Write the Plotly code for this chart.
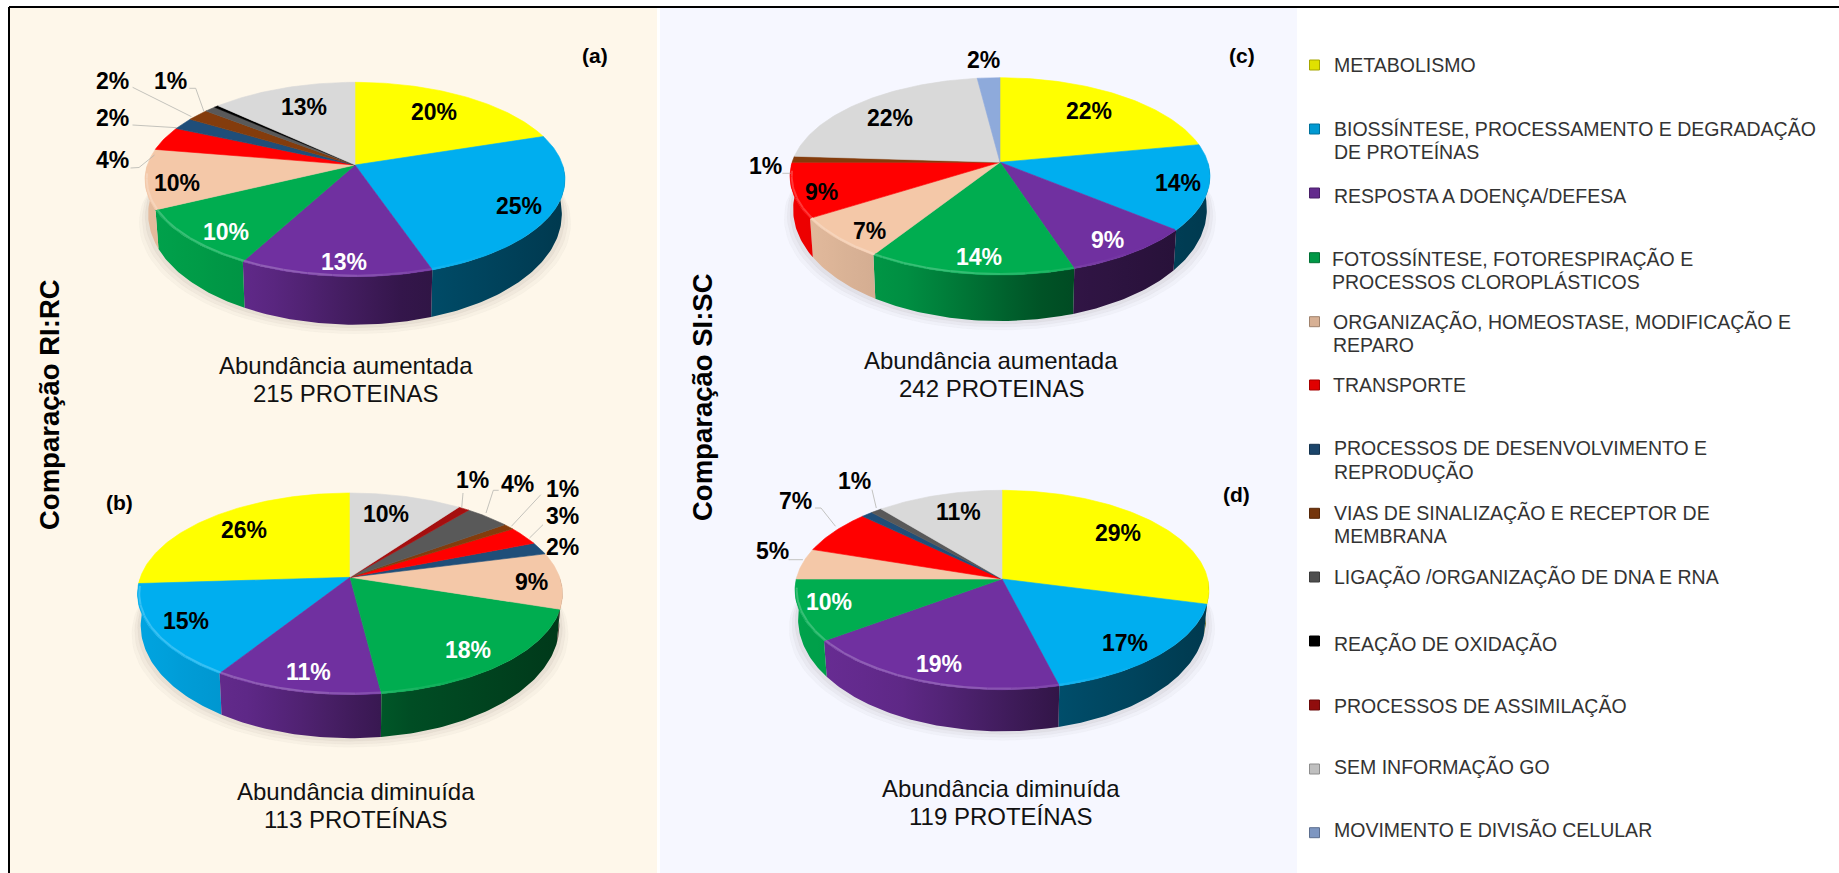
import math
import plotly.graph_objects as go

# Functional categories, in legend order
CATEGORIES = [
    "METABOLISMO",
    "BIOSSÍNTESE, PROCESSAMENTO E DEGRADAÇÃO<br>DE PROTEÍNAS",
    "RESPOSTA A DOENÇA/DEFESA",
    "FOTOSSÍNTESE, FOTORESPIRAÇÃO E<br>PROCESSOS CLOROPLÁSTICOS",
    "ORGANIZAÇÃO, HOMEOSTASE, MODIFICAÇÃO E<br>REPARO",
    "TRANSPORTE",
    "PROCESSOS DE DESENVOLVIMENTO E<br>REPRODUÇÃO",
    "VIAS DE SINALIZAÇÃO E RECEPTOR DE<br>MEMBRANA",
    "LIGAÇÃO /ORGANIZAÇÃO DE DNA E RNA",
    "REAÇÃO DE OXIDAÇÃO",
    "PROCESSOS DE ASSIMILAÇÃO",
    "SEM INFORMAÇÃO GO",
    "MOVIMENTO E DIVISÃO CELULAR",
]
COLORS = ["#ffff00", "#00aeef", "#7030a0", "#00ad50", "#f4c8a8", "#ff0000", "#1f4e79",
          "#843c0c", "#595959", "#000000", "#a50f0f", "#d9d9d9", "#8eaadb"]

# Percentages per category for each comparison
VALUES_A = [20, 25, 13, 10, 10, 4, 2, 2, 1, 0.4, 0, 13, 0]
VALUES_B = [26, 15, 11, 18, 9, 3, 2, 1, 4, 0, 1, 10, 0]
VALUES_C = [22, 14, 9, 14, 7, 9, 0, 1, 0, 0, 0, 22, 2]
VALUES_D = [29, 17, 19, 10, 5, 7, 1, 0, 1, 0, 0, 11, 0]

# Slice order around each disc (panel b runs counter-clockwise and puts 6 before 5)
ORDER_DEFAULT = list(range(13))
ORDER_B = [0, 1, 2, 3, 4, 6, 5, 7, 8, 9, 10, 11, 12]

# Disc geometry in figure pixels: apex x/y, rim top y, rim front y, half width, front depth
DISCS = {
    "a": dict(values=VALUES_A, order=ORDER_DEFAULT, sign=1, ax=355, ay=165, top=82.3, front=276.7, hw=210, depth=48),
    "b": dict(values=VALUES_B, order=ORDER_B, sign=-1, ax=350, ay=577.3, top=493, front=694.7, hw=212.5, depth=43.5),
    "c": dict(values=VALUES_C, order=ORDER_DEFAULT, sign=1, ax=1000, ay=162.3, top=77.7, front=275, hw=210, depth=46),
    "d": dict(values=VALUES_D, order=ORDER_DEFAULT, sign=1, ax=1002, ay=579, top=490.3, front=689.7, hw=207, depth=41.6),
}

# Percent labels: text, x, y, colour
PCT_LABELS = [
    ("20%", 433.5, 111.7, "#000"), ("25%", 519, 206, "#000"), ("13%", 344, 261.7, "#fff"),
    ("10%", 226.4, 231.7, "#fff"), ("10%", 176.8, 182.7, "#000"), ("4%", 112.4, 160, "#000"),
    ("2%", 112.4, 118.3, "#000"), ("2%", 112.4, 80.7, "#000"), ("1%", 170.5, 80.7, "#000"),
    ("13%", 304, 106.7, "#000"),
    ("26%", 244, 529.7, "#000"), ("10%", 386.4, 514, "#000"), ("1%", 472.2, 479.7, "#000"),
    ("4%", 517.7, 483.7, "#000"), ("1%", 562.7, 488.7, "#000"), ("3%", 562.7, 516.3, "#000"),
    ("2%", 562.7, 547.3, "#000"), ("9%", 531.6, 582.3, "#000"), ("18%", 468.4, 650.3, "#fff"),
    ("11%", 308, 672, "#fff"), ("15%", 186.4, 621.3, "#000"),
    ("22%", 1088.6, 110.7, "#000"), ("14%", 1177.6, 183.3, "#000"), ("9%", 1107, 240, "#fff"),
    ("14%", 979, 256.7, "#fff"), ("7%", 869, 230.7, "#000"), ("9%", 821.6, 191.7, "#000"),
    ("1%", 765.3, 165.7, "#000"), ("22%", 889.8, 117.7, "#000"), ("2%", 983.7, 60, "#000"),
    ("29%", 1118, 533, "#000"), ("17%", 1125.3, 643, "#000"), ("19%", 938.8, 663.7, "#fff"),
    ("10%", 828.6, 602, "#fff"), ("5%", 772.2, 551.3, "#000"), ("7%", 795.5, 500.7, "#000"),
    ("1%", 854.7, 481.3, "#000"), ("11%", 958, 512.3, "#000"),
]
PANEL_TAGS = [("(a)", 595, 55), ("(b)", 119, 502), ("(c)", 1242, 55), ("(d)", 1236, 494)]
CAPTIONS = [
    ("Abundância aumentada", 345.5, 365), ("215 PROTEINAS", 345.5, 393),
    ("Abundância diminuída", 355.6, 791.3), ("113 PROTEÍNAS", 355.6, 819.7),
    ("Abundância aumentada", 991.4, 360), ("242 PROTEINAS", 991.4, 388),
    ("Abundância diminuída", 1000.8, 788.7), ("119 PROTEÍNAS", 1000.8, 816.3),
]
SIDE_TITLES = [("Comparação RI:RC", 49, 405), ("Comparação SI:SC", 702, 397)]

# Leader lines from outside labels to their slices
LEADERS = [
    [(130.5, 168), (139, 167.5), (154.5, 155)],
    [(132.5, 125), (176.8, 127.7)],
    [(132.6, 87.3), (191.5, 116.7)],
    [(189.4, 88.3), (195.7, 88.3), (204, 111.7)],
    [(463, 493), (461.7, 508)],
    [(498.7, 490.3), (493.3, 490.3), (486, 513)],
    [(540.8, 494.7), (511.4, 526.3)],
    [(543, 524.7), (529.5, 538)],
    [(782.4, 173.3), (790.6, 173.3)],
    [(788.6, 559.7), (802.9, 559.7)],
    [(815, 508), (821, 508), (835.5, 526.3)],
    [(872, 489.7), (876.3, 508)],
]

# Legend rows: marker y, text x, first-line y
LEGEND_MARKER_X = 1314.5
LEGEND_LINE_STEP = 23.6
LEGEND_ROWS = [
    (65, 1332, 65), (129, 1332, 128.3), (193, 1332, 196), (257.7, 1329.5, 258.3),
    (321.7, 1330.5, 321.7), (385, 1330.5, 385), (449.3, 1332, 447.7), (513.3, 1332, 512.3),
    (577, 1332, 576.7), (641, 1332, 643.3), (705, 1332, 705), (769, 1332, 766.7),
    (832.7, 1332, 829),
]

FONT = "Liberation Sans"


def hex_rgb(c):
    return tuple(int(c[i:i + 2], 16) for i in (1, 3, 5))


def shade(c, f):
    r, g, b = hex_rgb(c)
    return f"rgb({r * f:.0f},{g * f:.0f},{b * f:.0f})"


def tint(c, f):
    r, g, b = hex_rgb(c)
    return f"rgb({r + (255 - r) * f:.0f},{g + (255 - g) * f:.0f},{b + (255 - b) * f:.0f})"


def light(u):
    # Side wall brightness: lit from the left, falling off to the right
    pts = [(-1.05, .95), (-.5, .85), (-.3, .75), (0, .58), (.25, .45), (1.05, .32)]
    for (u0, f0), (u1, f1) in zip(pts, pts[1:]):
        if u <= u1:
            return f0 + (f1 - f0) * (u - u0) / (u1 - u0)
    return pts[-1][1]


class Disc:
    """Perspective projection of a flat disc seen from above."""

    def __init__(self, d):
        self.ax, self.ay, self.hw = d["ax"], d["ay"], d["hw"]
        up, down = d["ay"] - d["top"], d["front"] - d["ay"]
        self.k = (down - up) / (down + up)
        self.s = up * (1 + self.k)
        self.r = d["hw"] * math.sqrt(1 - self.k ** 2)
        self.depth = d["depth"]
        self.side = d["depth"] * 0.67

    def rim(self, deg, scale=1.0):
        t = math.radians(deg)
        u, v = math.sin(t) * scale, -math.cos(t) * scale
        w = 1 - self.k * v
        return self.ax + self.r * u / w, self.ay + self.s * v / w

    def low(self, deg):
        x, y = self.rim(deg)
        v = max(-math.cos(math.radians(deg)), 0)
        return self.ax + (x - self.ax) * 0.985, y + self.side + (self.depth - self.side) * v


def arc(a0, a1, step=1.0):
    n = max(2, int(abs(a1 - a0) / step) + 1)
    return [a0 + (a1 - a0) * i / (n - 1) for i in range(n)]


def front_range(a0, a1, start, end):
    # Part of a slice's angular span that lies on the front of the disc
    lo, hi = min(a0, a1), max(a0, a1)
    if lo < 0:
        lo, hi = lo + 360, hi + 360
    return max(lo, start), min(hi, end)


def polygon(fig, xs, ys, color=None, gradient=None):
    kw = dict(fillgradient=gradient) if gradient else dict(fillcolor=color)
    fig.add_trace(go.Scatter(x=xs, y=ys, mode="lines", fill="toself",
                             line=dict(width=0.6, color=color or "rgba(0,0,0,0)"),
                             hoverinfo="skip", showlegend=False, **kw))


fig = go.Figure()

for d in DISCS.values():
    disc = Disc(d)
    vals = d["values"]
    total = sum(vals)
    # Soft drop shadow under the wall
    ring = arc(0, 360, 3)
    for grow, alpha in ((9, .03), (6, .04), (3, .05)):
        xs = [disc.ax + (disc.low(a)[0] - disc.ax) * (1 + grow / disc.hw) for a in ring]
        ys = [disc.low(a)[1] + grow for a in ring]
        polygon(fig, xs, ys, f"rgba(70,60,50,{alpha})")

    spans, acc = [], 0
    for idx in d["order"]:
        if vals[idx] <= 0:
            continue
        a0 = d["sign"] * acc / total * 360
        acc += vals[idx]
        spans.append((idx, a0, d["sign"] * acc / total * 360))

    # Outer wall of the disc, front half only
    for idx, a0, a1 in spans:
        lo, hi = front_range(a0, a1, 90, 270)
        if hi <= lo:
            continue
        angs = arc(lo, hi)
        top = [disc.rim(a) for a in angs]
        bot = [disc.low(a) for a in reversed(angs)]
        xs = [p[0] for p in top + bot]
        ys = [p[1] for p in top + bot]
        x0, x1 = min(xs), max(xs)
        stops = []
        for i in range(7):
            f = i / 6
            stops.append([f, shade(COLORS[idx], light((x0 + (x1 - x0) * f - disc.ax) / disc.hw))])
        polygon(fig, xs + xs[:1], ys + ys[:1], gradient=dict(type="horizontal", colorscale=stops))

    # Top face
    for idx, a0, a1 in spans:
        pts = [disc.rim(a) for a in arc(a0, a1)]
        xs = [disc.ax] + [p[0] for p in pts] + [disc.ax]
        ys = [disc.ay] + [p[1] for p in pts] + [disc.ay]
        polygon(fig, xs, ys, COLORS[idx])

    # Bevel highlight along the front edge, brightest on the lit left side
    for idx, a0, a1 in spans:
        lo, hi = front_range(a0, a1, 110, 265)
        a = lo
        while a < hi:
            b = min(a + 6, hi)
            pts = [disc.rim(t, 0.992) for t in arc(a, b)]
            u = math.sin(math.radians((a + b) / 2))
            strength = max(0.0, min(.22, .22 - .22 * (u + .2) / .8))
            fig.add_trace(go.Scatter(x=[p[0] for p in pts], y=[p[1] for p in pts], mode="lines",
                                     line=dict(width=2, color=tint(COLORS[idx], strength)),
                                     hoverinfo="skip", showlegend=False))
            a = b

for seg in LEADERS:
    fig.add_trace(go.Scatter(x=[p[0] for p in seg], y=[p[1] for p in seg], mode="lines",
                             line=dict(width=0.8, color="#b5b5b0"), hoverinfo="skip", showlegend=False))

# Legend swatches
for i, row in enumerate(LEGEND_ROWS):
    fig.add_trace(go.Scatter(x=[LEGEND_MARKER_X], y=[row[0]], mode="markers",
                             marker=dict(symbol="square", size=10, color=shade(COLORS[i], .88),
                                         line=dict(width=1, color=shade(COLORS[i], .65))),
                             hoverinfo="skip", showlegend=False))


def note(text, x, y, size, color="#000", anchor="center", angle=0):
    fig.add_annotation(x=x, y=y, xref="x", yref="y", text=text, showarrow=False, xanchor=anchor, yanchor="middle",
                       textangle=angle, font=dict(family=FONT, size=size, color=color))


for text, x, y, col in PCT_LABELS:
    note(f"<b>{text}</b>", x, y, 23, col)
for text, x, y in PANEL_TAGS:
    note(f"<b>{text}</b>", x, y, 21)
for text, x, y in CAPTIONS:
    note(text, x, y, 24, "#111")
for text, x, y in SIDE_TITLES:
    note(f"<b>{text}</b>", x, y, 27.5, angle=-90)
for i, row in enumerate(LEGEND_ROWS):
    for j, line in enumerate(CATEGORIES[i].split("<br>")):
        note(line, row[1], row[2] + j * LEGEND_LINE_STEP, 19.5, "#333", anchor="left")

fig.update_layout(
    width=1839, height=873, margin=dict(l=0, r=0, t=0, b=0),
    paper_bgcolor="#ffffff", plot_bgcolor="#ffffff", showlegend=False,
    xaxis=dict(range=[0, 1839], visible=False, fixedrange=True),
    yaxis=dict(range=[873, 0], visible=False, fixedrange=True),
    shapes=[
        dict(type="rect", xref="x", yref="y", x0=9, x1=657, y0=7, y1=873, fillcolor="#fef7ea", line_width=0, layer="below"),
        dict(type="rect", xref="x", yref="y", x0=660, x1=1297, y0=7, y1=873, fillcolor="#f6f7ff", line_width=0, layer="below"),
        dict(type="line", xref="x", yref="y", x0=9, x1=1839, y0=7, y1=7, line=dict(color="#000", width=2), layer="above"),
        dict(type="line", xref="x", yref="y", x0=9, x1=9, y0=7, y1=873, line=dict(color="#000", width=2), layer="above"),
    ],
)

fig.write_html("out.html")
